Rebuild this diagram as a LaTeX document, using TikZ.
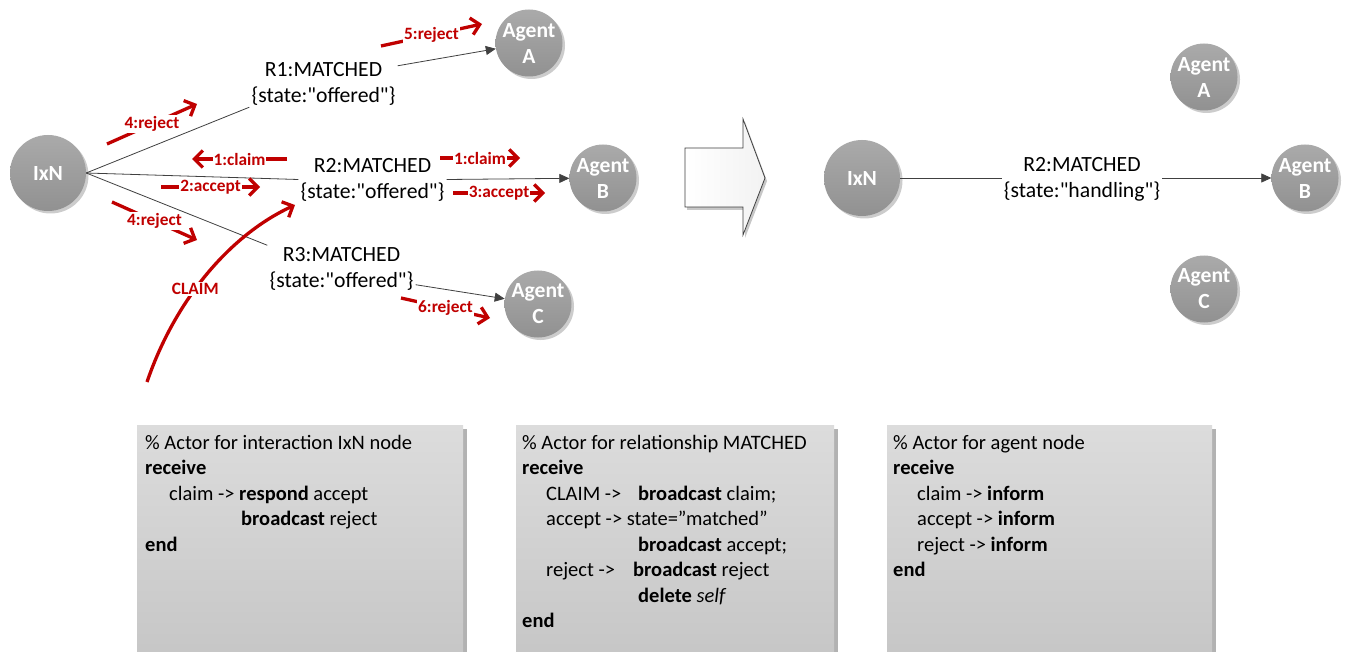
\documentclass[tikz,border=0pt]{standalone}
\usepackage{fontspec}
\setmainfont{Carlito}
\newfontfamily\calib{Carlito}
\usetikzlibrary{arrows.meta,shadows}
\definecolor{redc}{RGB}{192,0,0}
\definecolor{linec}{RGB}{64,64,64}
\definecolor{circtop}{RGB}{170,170,170}
\definecolor{circbot}{RGB}{145,145,145}
\definecolor{boxtop}{RGB}{220,220,220}
\definecolor{boxbot}{RGB}{198,198,198}
\begin{document}
\begin{tikzpicture}[x=1pt,y=-1pt,
  ball/.style={circle, inner sep=0pt, top color=circtop, bottom color=circbot, draw=none,
    text=white, font=\calib\fontsize{21.6}{26}\selectfont\bfseries, align=center,
    general shadow={fill=black!20, shadow xshift=2.5pt, shadow yshift=-2.5pt}},
  agent/.style={ball, minimum size=67pt},
  ixnball/.style={ball, minimum size=76pt},
  rel/.style={inner sep=2pt, align=center, font=\calib\fontsize{21.7}{26}\selectfont},
  conn/.style={draw=linec, line width=0.8pt},
  connarr/.style={conn, -{Triangle[length=10pt,width=9pt]}},
  msg/.style={draw=redc, line width=3.3pt, -{Straight Barb[length=8.5pt,width=17pt]}},
  msglbl/.style={fill=white, inner sep=1pt, text=redc, font=\calib\fontsize{17.3}{20}\selectfont\bfseries},
  code/.style={anchor=base west, inner sep=0pt, font=\calib\fontsize{20.5}{25}\selectfont},
  codebox/.style={top color=boxtop, bottom color=boxbot},
  boxshadow/.style={fill=black!30},
]
\useasboundingbox (0,0) rectangle (1349,652);
\clip (0,0) rectangle (1349,652);
\fill[white] (0,0) rectangle (1349,652);

% ---------- left graph ----------
\node[ixnball] (ixn) at (48,173) {IxN};
\node[agent] (agA) at (529,43) {Agent\\A};
\node[agent] (agB) at (603,178) {Agent\\B};
\node[agent] (agC) at (538,304) {Agent\\C};
\node[rel] (r1) at (323.5,83.5) {R1:MATCHED\\\{state:"offered"\}};
\node[rel] (r2) at (372.5,179.5) {R2:MATCHED\\\{state:"offered"\}};
\node[rel] (r3) at (341.5,269) {R3:MATCHED\\\{state:"offered"\}};

\draw[conn] (ixn.east) -- (r1.south west);
\draw[conn] (ixn.east) -- (r2.west);
\draw[conn] (ixn.east) -- (r3.north west);
\draw[connarr] ([yshift=-6pt]r1.north east) -- (agA);
\draw[connarr] (r2.east) -- (agB);
\draw[connarr] ([yshift=8pt]r3.south east) -- (agC);

% red messages
\coordinate (m5s) at (381,46);  \coordinate (m5e) at (482,24);
\coordinate (m4as) at (107,144); \coordinate (m4ae) at (197,104);
\coordinate (m1as) at (287,159); \coordinate (m1ae) at (192,159);
\coordinate (m2s) at (161,187); \coordinate (m2e) at (260,187);
\coordinate (m4bs) at (112,202); \coordinate (m4be) at (197,240);
\coordinate (m1bs) at (440,158); \coordinate (m1be) at (520,158);
\coordinate (m3s) at (453,193); \coordinate (m3e) at (545,193);
\coordinate (m6s) at (401,298); \coordinate (m6e) at (490,318);
\coordinate (cls) at (147,382); \coordinate (cle) at (295,205);

\draw[msg] (m5s) -- node[msglbl] {5:reject} (m5e);
\draw[msg] (m4as) -- node[msglbl] {4:reject} (m4ae);
\draw[msg] (m1as) -- node[msglbl] {1:claim} (m1ae);
\draw[msg] (m2s) -- node[msglbl] {2:accept} (m2e);
\draw[msg] (m4bs) -- node[msglbl] {4:reject} (m4be);
\draw[msg] (m1bs) -- node[msglbl] {1:claim} (m1be);
\draw[msg] (m3s) -- node[msglbl] {3:accept} (m3e);
\draw[msg] (m6s) -- node[msglbl] {6:reject} (m6e);
\draw[msg] (cls) .. controls (175,300) and (230,235) .. node[msglbl, pos=0.42] {CLAIM} (cle);

% ---------- transition arrow ----------
\path[draw=linec, line width=0.8pt, left color=white, right color=black!5,
  general shadow={fill=black!22, shadow xshift=2pt, shadow yshift=-3pt}]
  (685,148) -- (743,148) -- (743,119) -- (765,178) -- (743,235) -- (743,207) -- (685,207) -- cycle;

% ---------- right graph ----------
\node[ixnball] (ixn2) at (862,178) {IxN};
\node[agent] (agA2) at (1204,77) {Agent\\A};
\node[agent] (agB2) at (1305,178) {Agent\\B};
\node[agent] (agC2) at (1204,289) {Agent\\C};
\node[rel] (r2b) at (1082,179.5) {R2:MATCHED\\\{state:"handling"\}};
\draw[conn] (ixn2.east) -- (ixn2.east -| r2b.west);
\draw[connarr] (ixn2.east -| r2b.east) -- (agB2.west);

% ---------- code boxes ----------
\fill[boxshadow] (141,429) rectangle (467,660);
\path[codebox] (137,425) rectangle (463,660);
\fill[boxshadow] (520,429) rectangle (838,660);
\path[codebox] (516,425) rectangle (834,660);
\fill[boxshadow] (891,429) rectangle (1216,660);
\path[codebox] (887,425) rectangle (1212,660);

\node[code] (c1a) at (145,449) {\% Actor for interaction IxN node};
\node[code] (c1b) at (145,474.5) {\textbf{receive}};
\node[code] (c1c) at (169,500) {claim -> \textbf{respond} accept};
\node[code] (c1d) at (241,525.5) {\textbf{broadcast} reject};
\node[code] (c1e) at (145,551) {\textbf{end}};

\node[code] (c2a) at (522,449) {\% Actor for relationship MATCHED};
\node[code] (c2b) at (522,474.5) {\textbf{receive}};
\node[code] (c2c) at (546,500) {CLAIM ->};
\node[code] (c2d) at (638,500) {\textbf{broadcast} claim;};
\node[code] (c2e) at (546,525.5) {accept -> state=”matched”};
\node[code] (c2f) at (638,551) {\textbf{broadcast} accept;};
\node[code] (c2g) at (546,576.5) {reject ->};
\node[code] (c2h) at (633,576.5) {\textbf{broadcast} reject};
\node[code] (c2i) at (638,602) {\textbf{delete} \textit{self}};
\node[code] (c2j) at (522,627.5) {\textbf{end}};

\node[code] (c3a) at (893,449) {\% Actor for agent node};
\node[code] (c3b) at (893,474.5) {\textbf{receive}};
\node[code] (c3c) at (917,500) {claim -> \textbf{inform}};
\node[code] (c3d) at (917,525.5) {accept -> \textbf{inform}};
\node[code] (c3e) at (917,551) {reject -> \textbf{inform}};
\node[code] (c3f) at (893,576.5) {\textbf{end}};
\end{tikzpicture}
\end{document}
